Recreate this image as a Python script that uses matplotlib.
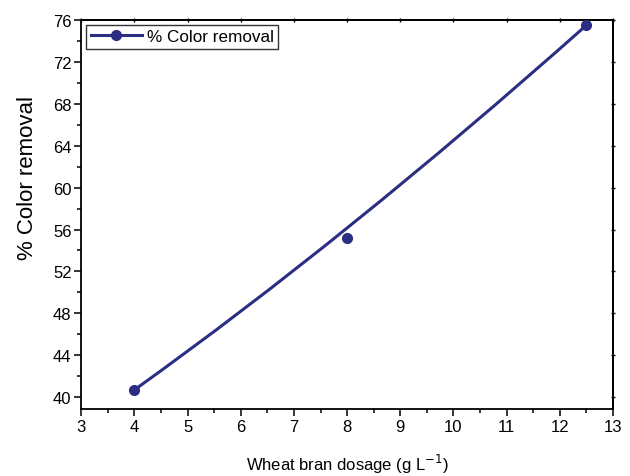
import matplotlib.pyplot as plt
from matplotlib.path import Path
from matplotlib.patches import PathPatch
from matplotlib.lines import Line2D
from matplotlib.ticker import MultipleLocator

plt.rcParams['font.family'] = ['Liberation Sans', 'DejaVu Sans']

# wheat bran dosage vs colour removal
dosage = [4, 8, 12.5]
removal = [40.7, 55.2, 75.5]

navy = '#2b2e83'

fig = plt.figure(figsize=(6.3, 4.77), dpi=100)
ax = fig.add_axes([0.129, 0.140, 0.844, 0.816])

# B-spline style smooth line using the points as control points
verts = list(zip(dosage, removal))
path = Path(verts, [Path.MOVETO, Path.CURVE3, Path.CURVE3])
ax.add_patch(PathPatch(path, facecolor='none', edgecolor=navy, lw=2.2, zorder=2))
ax.plot(dosage, removal, 'o', color=navy, ms=7, zorder=3)

ax.set_xlim(3, 13)
ax.set_ylim(38.85, 76)
ax.xaxis.set_major_locator(MultipleLocator(1))
ax.xaxis.set_minor_locator(MultipleLocator(0.5))
ax.yaxis.set_major_locator(MultipleLocator(4))
ax.yaxis.set_minor_locator(MultipleLocator(2))

for s in ax.spines.values():
    s.set_linewidth(1.3)
ax.tick_params(which='both', direction='out', labelsize=12, width=1.1)
ax.tick_params(which='major', length=5, pad=2)
ax.tick_params(which='minor', length=3)

# small ticks on the opposite spines, no labels
ax2 = ax.secondary_xaxis('top')
ax2.xaxis.set_major_locator(MultipleLocator(1))
ax2.tick_params(direction='inout', length=3, width=1.0, labeltop=False)
ax3 = ax.secondary_yaxis('right')
ax3.yaxis.set_major_locator(MultipleLocator(4))
ax3.tick_params(direction='inout', length=3, width=1.0, labelright=False)
ax2.spines['top'].set_linewidth(1.3)
ax3.spines['right'].set_linewidth(1.3)

ax.set_ylabel('% Color removal', fontsize=16)
ax.yaxis.set_label_coords(-0.082, 0.596)
ax.set_xlabel('Wheat bran dosage (g L$^{-1}$)', fontsize=12, labelpad=13)

handle = Line2D([], [], color=navy, lw=2.2, marker='o', ms=7)
leg = ax.legend([handle], ['% Color removal'], loc='upper left',
                fontsize=12.3, frameon=True, fancybox=False, borderpad=0.25,
                handlelength=3.0, handletextpad=0.3,
                borderaxespad=0.3)
leg.get_frame().set_edgecolor('black')
leg.get_frame().set_linewidth(1.0)

fig.savefig('out.png', dpi=100)
